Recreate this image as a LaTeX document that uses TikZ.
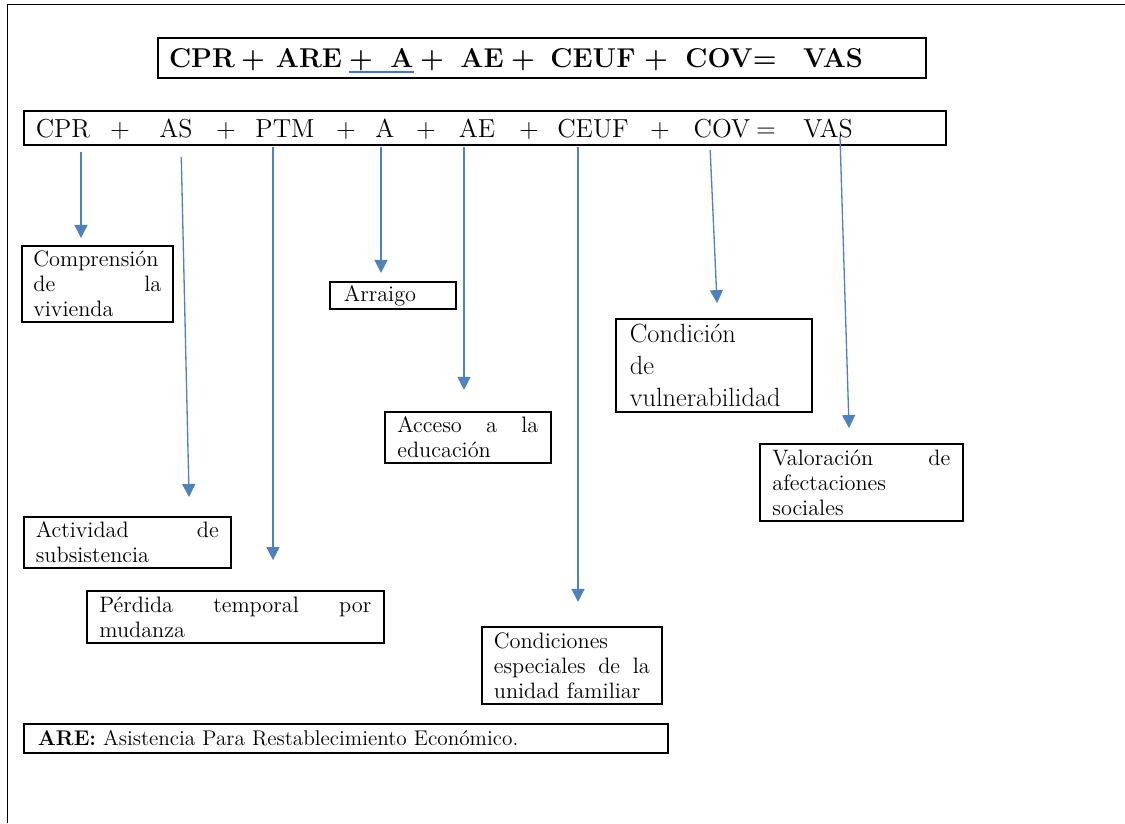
\documentclass[tikz,border=0pt]{standalone}
\usepackage{fontspec}
\usetikzlibrary{arrows.meta, positioning}

\definecolor{arrowblue}{RGB}{79,129,189}
\definecolor{lineblue}{RGB}{68,114,196}

\begin{document}
\begin{tikzpicture}[x=0.02cm, y=-0.02cm,
    box/.style={draw, line width=1pt, anchor=north west, inner sep=0pt, align=left,
                font=\fontsize{12.7}{14.2}\selectfont},
    tokbig/.style={anchor=base, inner sep=0pt, font=\fontsize{15.5}{18}\selectfont\bfseries},
    toksmall/.style={anchor=base, inner sep=0pt, font=\fontsize{14.8}{18}\selectfont},
    arrow/.style={arrowblue, line width=0.75pt, -{Triangle[width=7.4pt, length=7.4pt]}}]
    \useasboundingbox (0,0) rectangle (1125,823);

    % Page edge
    \draw[line width=0.7pt] (7.5,823) -- (7.5,4.5) -- (1125,4.5);

    % Formula boxes
    \node[box, minimum width=15.36cm, minimum height=0.8cm] (upper) at (157,37) {};
    \node[box, minimum width=18.44cm, minimum height=0.68cm] (lower) at (23,110) {};

    \foreach \nm/\cx/\tx in {up-cpr/202/CPR, up-p1/253/+, up-are/309/ARE, up-p2/361/+,
        up-a/402/A, up-p3/432/+, up-ae/482/AE, up-p4/523/+, up-ceuf/593/CEUF,
        up-p5/656/+, up-cov/731/COV=, up-vas/833/VAS}
        \node[tokbig] (\nm) at (\cx,67) {\tx};
    \draw[lineblue, line width=0.8pt] ([yshift=-2.8pt]up-p2.base west) -- ([yshift=-2.8pt]up-a.base east);

    \foreach \nm/\cx/\tx in {cpr/63/CPR, p1/120/+, as/176/AS, p2/226/+, ptm/285/PTM,
        p3/346/+, a/385/A, p4/426/+, ae/477/AE, p5/529/+, ceuf/593/CEUF, p6/660/+,
        cov/722/COV, eq/766/=, vas/828/VAS}
        \node[toksmall] (\nm) at (\cx,137) {\tx};

    % Meaning of each term
    \node[box, minimum width=3.02cm, minimum height=1.52cm, text width=2.56cm] (cpv) at (21,245)
        {Comprensión\\ de\hfill la\\ vivienda};
    \node[box, minimum width=4.14cm, minimum height=1.02cm, text width=3.66cm] (act) at (23,516)
        {Actividad\hfill de\\ subsistencia};
    \node[box, minimum width=5.94cm, minimum height=1.04cm, text width=5.44cm] (per) at (86,590)
        {Pérdida\hfill temporal\hfill por\\ mudanza};
    \node[box, minimum width=2.52cm, minimum height=0.54cm, text width=1.96cm] (arr) at (329,281)
        {Arraigo};
    \node[box, minimum width=3.32cm, minimum height=1.02cm, text width=2.82cm] (edu) at (384,411)
        {Acceso\hfill a\hfill la\\ educación};
    \node[box, minimum width=3.6cm, minimum height=1.54cm, text width=3.12cm] (ceu) at (481,626)
        {Condiciones\\ especiales\hfill de\hfill la\\ unidad familiar};
    \node[box, minimum width=3.92cm, minimum height=1.86cm, text width=3.36cm,
        font=\fontsize{15}{18}\selectfont] (vul) at (615,318)
        {Condición\\ de\\ vulnerabilidad};
    \node[box, minimum width=4.06cm, minimum height=1.54cm, text width=3.56cm] (val) at (759,443)
        {Valoración\hfill de\\ afectaciones\\ sociales};

    % Arrows
    \draw[arrow, shorten <=3.4pt, shorten >=4pt] (lower.south -| 81,0) -- (cpv.north -| 81,0);
    \draw[arrow, shorten <=6.3pt, shorten >=10.8pt] (lower.south -| 181,0) -- (act.north -| 189.5,0);
    \draw[arrow, shorten <=0.6pt, shorten >=17pt] (lower.south -| 273,0) -- (per.north -| 273,0);
    \draw[arrow, shorten <=0.6pt, shorten >=4.6pt] (lower.south -| 381,0) -- (arr.north -| 381,0);
    \draw[arrow, shorten <=0.6pt, shorten >=12pt] (lower.south -| 464,0) -- (edu.north -| 464,0);
    \draw[arrow, shorten <=0.6pt, shorten >=13.7pt] (lower.south -| 578,0) -- (ceu.north -| 578,0);
    \draw[arrow, shorten <=2.3pt, shorten >=8.5pt] (lower.south -| 710,0) -- (vul.north -| 717.7,0);
    \draw[arrow, shorten >=8.5pt] (vas.base -| 840,0) -- (val.north -| 849.5,0);

    % Note
    \node[box, minimum width=12.88cm, minimum height=0.58cm, text width=12.32cm,
        font=\fontsize{12.1}{13}\selectfont] (note) at (23,723)
        {\textbf{ARE:} Asistencia Para Restablecimiento Económico.};
\end{tikzpicture}
\end{document}
